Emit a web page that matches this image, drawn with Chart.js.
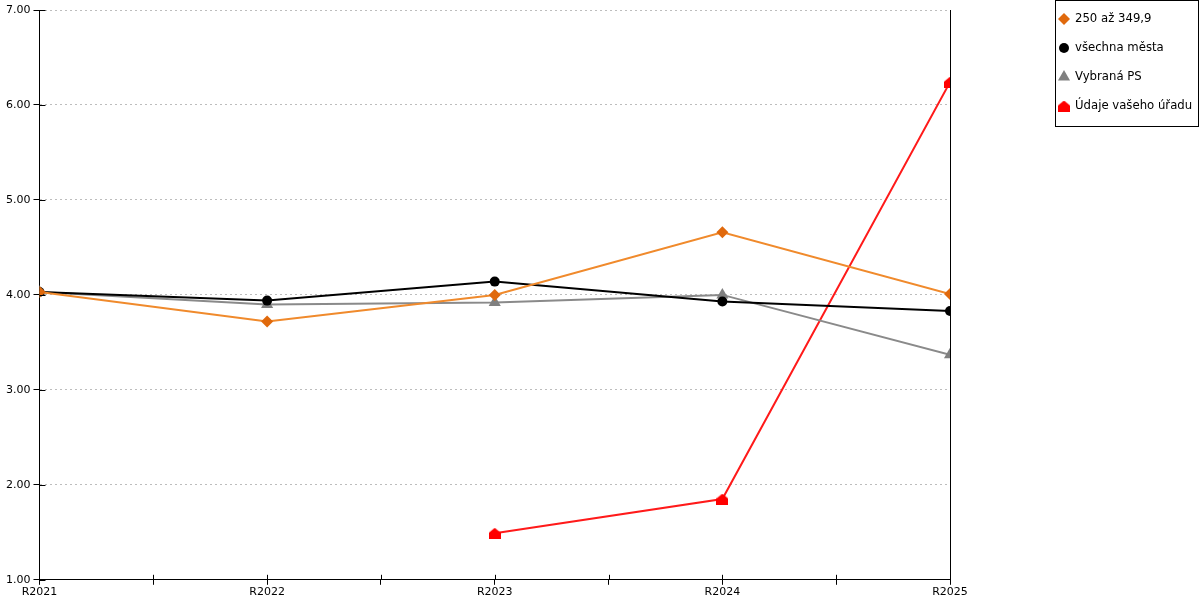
<!DOCTYPE html>
<html>
<head>
<meta charset="utf-8">
<script src="https://cdn.jsdelivr.net/npm/chart.js@4/dist/chart.umd.min.js"></script>
<style>
  html, body { margin: 0; padding: 0; background: #fff; }
  #wrap { position: relative; width: 1200px; height: 600px; }
</style>
</head>
<body>
<div id="wrap"><canvas id="c"></canvas></div>
<script>
const categories = ['R2021', 'R2022', 'R2023', 'R2024', 'R2025']
const orangeVals = [4.03, 3.72, 4.00, 4.66, 4.01]
const blackVals = [4.03, 3.94, 4.14, 3.93, 3.83]
const grayVals = [4.03, 3.90, 3.92, 4.00, 3.37]
const redVals = [null, null, 1.49, 1.85, 6.24]
const seriesNames = ['250 až 349,9', 'všechna města', 'Vybraná PS', 'Údaje vašeho úřadu']

const FONT = 'DejaVu Sans'

// house shaped marker for the red series
function houseMarker(color) {
  const cv = document.createElement('canvas')
  cv.width = 12
  cv.height = 11
  const g = cv.getContext('2d')
  g.fillStyle = color
  g.beginPath()
  g.moveTo(6, 0)
  g.lineTo(12, 5)
  g.lineTo(12, 11)
  g.lineTo(0, 11)
  g.lineTo(0, 5)
  g.closePath()
  g.fill()
  return cv
}

const toPoints = vals => vals.map((v, i) => ({ x: i, y: v }))

const datasets = [
  { label: seriesNames[0], data: toPoints(orangeVals), borderColor: '#f08a2c', backgroundColor: '#e0690c',
    pointStyle: 'rectRot', pointRadius: 6 },
  { label: seriesNames[1], data: toPoints(blackVals), borderColor: '#000000', backgroundColor: '#000000',
    pointStyle: 'circle', pointRadius: 5 },
  { label: seriesNames[2], data: toPoints(grayVals), borderColor: '#8a8a8a', backgroundColor: '#808080',
    pointStyle: 'triangle', pointRadius: 7 },
  { label: seriesNames[3], data: toPoints(redVals), borderColor: '#ff1a1a', backgroundColor: '#ff0000',
    pointStyle: houseMarker('#ff0000'), pointRadius: 6 },
]
datasets.forEach(d => {
  d.borderWidth = 2
  d.pointBorderWidth = 0
  d.pointHoverRadius = d.pointRadius
  d.spanGaps = false
})

// legend drawn in a bordered box on the right
const boxLegend = {
  id: 'boxLegend',
  afterDraw(chart) {
    const ctx = chart.ctx
    const x0 = 1055.5, y0 = 0.5, w = 143, h = 126
    ctx.save()
    ctx.strokeStyle = '#000'
    ctx.lineWidth = 1
    ctx.strokeRect(x0, y0, w, h)
    ctx.font = '11.7px "' + FONT + '"'
    ctx.textBaseline = 'middle'
    chart.data.datasets.forEach((ds, i) => {
      const cy = 19 + i * 29
      ctx.fillStyle = ds.backgroundColor
      const r = ds.pointStyle === 'triangle' ? 7 : (ds.pointStyle === 'rectRot' ? 6 : 5)
      Chart.helpers.drawPoint(ctx, { pointStyle: ds.pointStyle, radius: r, rotation: 0, borderWidth: 0 }, 1064, cy)
      ctx.fillStyle = '#000'
      ctx.fillText(ds.label, 1075, cy)
    })
    ctx.restore()
  }
}

// short tick marks on the inner side of both axes
const innerTicks = {
  id: 'innerTicks',
  afterDatasetsDraw(chart) {
    const ctx = chart.ctx
    const xs = chart.scales.x, ys = chart.scales.y
    ctx.save()
    ctx.strokeStyle = '#000'
    ctx.lineWidth = 1
    ctx.beginPath()
    xs.ticks.forEach(t => {
      const px = Math.round(xs.getPixelForValue(t.value)) + 0.5
      ctx.moveTo(px, ys.bottom)
      ctx.lineTo(px, ys.bottom - 5)
    })
    ys.ticks.forEach(t => {
      const py = Math.round(ys.getPixelForValue(t.value)) + 0.5
      ctx.moveTo(xs.left, py)
      ctx.lineTo(xs.left + 6, py)
    })
    ctx.stroke()
    ctx.restore()
  }
}

new Chart(document.getElementById('c'), {
  type: 'line',
  data: { datasets: datasets },
  plugins: [boxLegend, innerTicks],
  options: {
    responsive: true,
    maintainAspectRatio: false,
    animation: false,
    layout: { padding: { top: 10, right: 250, left: 3, bottom: 0 } },
    plugins: {
      legend: { display: false },
      tooltip: { enabled: false }
    },
    scales: {
      x: {
        type: 'linear',
        min: 0,
        max: 4,
        border: { color: '#000', width: 1 },
        grid: { drawOnChartArea: false, drawTicks: true, tickLength: 5, tickColor: '#000' },
        ticks: {
          stepSize: 0.5,
          autoSkip: false,
          maxRotation: 0,
          padding: 1,
          color: '#000',
          font: { family: FONT, size: 11 },
          callback: v => Number.isInteger(v) ? categories[v] : ''
        }
      },
      y: {
        min: 1,
        max: 7,
        border: { color: '#000', width: 1, dash: [2, 3] },
        grid: { color: '#bdbdbd', tickColor: '#000', tickBorderDash: [], tickLength: 6 },
        ticks: {
          stepSize: 1,
          padding: 3,
          color: '#000',
          font: { family: FONT, size: 11 },
          callback: v => v.toFixed(2)
        }
      },
      y2: {
        position: 'right',
        min: 1,
        max: 7,
        border: { color: '#000', width: 1 },
        grid: { drawOnChartArea: false, drawTicks: false },
        ticks: { display: false }
      }
    }
  }
})
</script>
</body>
</html>
